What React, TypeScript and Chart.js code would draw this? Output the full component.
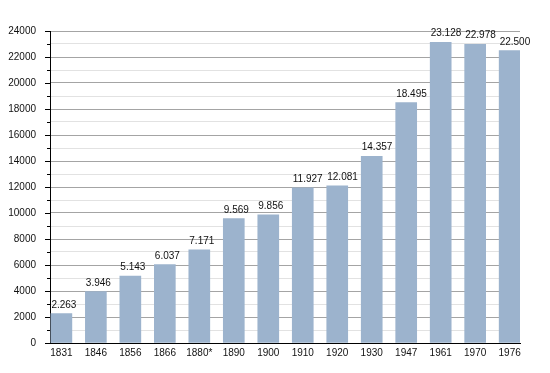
import React, { useEffect, useRef } from "react";
import { Chart, registerables } from "chart.js";

Chart.register(...registerables);

const categories = ["1831", "1846", "1856", "1866", "1880*", "1890", "1900", "1910", "1920", "1930", "1947", "1961", "1970", "1976"];
const population = [2263, 3946, 5143, 6037, 7171, 9569, 9856, 11927, 12081, 14357, 18495, 23128, 22978, 22500];
const yMax = 24000;
const yStep = 1000;
const yLabelStep = 2000;

const FONT = '"Liberation Sans", Arial, Helvetica, sans-serif';
const BAR_COLOR = "#9cb3cd";

const fmt = (v: number) => {
  const th = Math.floor(v / 1000);
  const rest = String(v % 1000).padStart(3, "0");
  return th > 0 ? `${th}.${rest}` : String(v);
};

const overlayPlugin = {
  id: "overlay",
  afterDraw(chart: any) {
    const ctx = chart.ctx;
    const y = chart.scales.y;
    ctx.save();
    ctx.strokeStyle = "#000";
    ctx.lineWidth = 1;
    y.ticks.forEach((t: any) => {
      const py = Math.round(y.getPixelForValue(t.value)) + 0.5;
      const major = t.value % yLabelStep === 0;
      const len = major ? 5 : 3;
      ctx.beginPath();
      ctx.moveTo(y.right - len, py);
      ctx.lineTo(y.right, py);
      ctx.stroke();
    });
    ctx.restore();
  },
  afterDatasetsDraw(chart: any) {
    const ctx = chart.ctx;
    const meta = chart.getDatasetMeta(0);
    ctx.save();
    ctx.font = `10px ${FONT}`;
    ctx.fillStyle = "#111";
    ctx.textAlign = "left";
    ctx.textBaseline = "alphabetic";
    meta.data.forEach((el: any, i: number) => {
      ctx.fillText(fmt(population[i]), el.x - el.width / 2 + 0.5, el.y - 6);
    });
    ctx.restore();
  },
};

export default function App() {
  const ref = useRef<HTMLCanvasElement>(null);
  useEffect(() => {
    document.body.style.margin = "0";
    const chart = new Chart(ref.current!, {
      type: "bar",
      data: {
        datasets: [
          {
            data: categories.map((_, i) => ({ x: i, y: population[i] })),
            backgroundColor: BAR_COLOR,
            borderWidth: 0,
            barThickness: 21,
          },
        ],
      },
      options: {
        animation: false,
        responsive: false,
        maintainAspectRatio: false,
        layout: { padding: { top: 31, right: 30, left: 0, bottom: 0 } },
        plugins: { legend: { display: false }, tooltip: { enabled: false } },
        scales: {
          x: {
            type: "linear",
            min: -0.33,
            max: 13.3,
            offset: false,
            afterBuildTicks: (scale: any) => {
              scale.ticks = categories.map((_, i) => ({ value: i }));
            },
            afterFit: (scale: any) => {
              scale.height = 30;
            },
            grid: { display: false, drawTicks: false },
            border: { display: true, color: "#000", width: 1 },
            ticks: {
              autoSkip: false,
              maxRotation: 0,
              padding: 4,
              color: "#111",
              font: { family: FONT, size: 10 },
              callback: (v: any) => categories[v as number] ?? "",
            },
          },
          y: {
            min: 0,
            max: yMax,
            afterFit: (scale: any) => {
              scale.width = 50;
            },
            grid: {
              drawTicks: false,
              color: (c: any) => (c.tick && c.tick.value % yLabelStep === 0 ? "#a4a4a4" : "#e2e2e2"),
            },
            border: { display: true, color: "#000", width: 1 },
            ticks: {
              stepSize: yStep,
              padding: 14,
              color: "#111",
              font: { family: FONT, size: 10 },
              autoSkip: false,
              callback: (v: any) => (v % yLabelStep === 0 ? String(v) : ""),
            },
          },
        },
      },
      plugins: [overlayPlugin],
    } as any);
    return () => chart.destroy();
  }, []);
  return <canvas ref={ref} width={550} height={373} style={{ display: "block", width: 550, height: 373 }} />;
}
